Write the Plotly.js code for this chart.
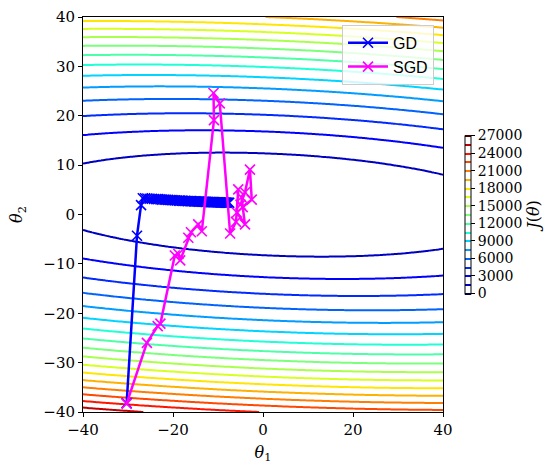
<!DOCTYPE html>
<html>
<head>
<meta charset="utf-8">
<script src="https://cdn.plot.ly/plotly-3.0.1.min.js"></script>
<style>html,body{margin:0;padding:0;background:#fff;}#chart{width:557px;height:465px;}</style>
</head>
<body>
<div id="chart"></div>
<script>
// ---- cost surface J(theta) (quadratic fitted to the contours) ----
const quadA = 0.49;     // theta1^2 weight
const quadB = 0.51;     // cross term weight
const quadC = 13.5;     // theta2^2 weight
const centerT1 = 2.0;
const centerT2 = 2.0;
const minCost = 60;
const gridMin = -40, gridMax = 40, gridStep = 0.5;

// contour levels / colourbar
const levelStart = 0, levelEnd = 27000, levelStep = 1500;
const cbTickStep = 3000;

// ---- gradient descent path ----
const gdT1 = [-30.3, -28.0, -27.1, -26.7, -26.2, -25.7, -25.2, -24.7, -24.2, -23.7, -23.3, -22.8, -22.4, -21.9,
  -21.5, -21.1, -20.7, -20.3, -19.9, -19.5, -19.1, -18.7, -18.4, -18.0, -17.7, -17.3, -17.0, -16.7, -16.3,
  -16.0, -15.7, -15.4, -15.1, -14.8, -14.5, -14.2, -13.9, -13.6, -13.4, -13.1, -12.8, -12.6, -12.3, -12.1,
  -11.8, -11.6, -11.3, -11.1, -10.9, -10.6, -10.4, -10.2, -10.0, -9.7, -9.5, -9.3, -9.1, -8.9, -8.7, -8.5,
  -8.3, -8.1, -7.9, -7.7, -7.5];
const gdT2 = [-38.2, -4.3, 1.9, 3.3, 3.3, 3.25, 3.2, 3.2, 3.15, 3.1, 3.1, 3.05, 3.0, 3.0,
  2.98, 2.95, 2.93, 2.9, 2.88, 2.86, 2.84, 2.82, 2.8, 2.78, 2.77, 2.75, 2.74, 2.72, 2.71,
  2.7, 2.68, 2.67, 2.66, 2.65, 2.63, 2.62, 2.61, 2.6, 2.59, 2.58, 2.57, 2.56, 2.55, 2.54,
  2.53, 2.52, 2.51, 2.5, 2.5, 2.49, 2.48, 2.47, 2.46, 2.45, 2.45, 2.44, 2.43, 2.42, 2.42, 2.41,
  2.4, 2.4, 2.39, 2.38, 2.38];

// ---- stochastic gradient descent path ----
const sgdT1 = [-30.3, -25.8, -23.4, -22.8, -19.6, -18.8, -18.4, -16.6, -16.0, -14.4, -13.6, -10.9, -11.0, -9.6,
  -7.3, -6.0, -5.5, -5.8, -4.0, -4.8, -4.5, -2.5, -2.9, -4.0, -5.0];
const sgdT2 = [-38.3, -26.0, -22.6, -22.1, -8.3, -8.0, -9.3, -4.7, -3.6, -2.0, -3.4, 19.1, 24.6, 22.5,
  -3.85, -1.5, 5.1, 0.4, -2.0, 3.5, 1.5, 3.0, 9.1, 4.5, 2.0];

// jet colour map (matplotlib)
const jet = [
  [0.0, 'rgb(0,0,128)'], [0.11, 'rgb(0,0,255)'], [0.125, 'rgb(0,0,255)'], [0.34, 'rgb(0,219,255)'],
  [0.35, 'rgb(0,230,247)'], [0.375, 'rgb(21,255,226)'], [0.64, 'rgb(239,255,8)'], [0.65, 'rgb(247,245,0)'],
  [0.66, 'rgb(255,236,0)'], [0.89, 'rgb(255,19,0)'], [0.91, 'rgb(232,0,0)'], [1.0, 'rgb(128,0,0)']
];

const gx = [], gy = [];
for (let v = gridMin; v <= gridMax + 1e-9; v += gridStep) { gx.push(+v.toFixed(3)); gy.push(+v.toFixed(3)); }
const gz = gy.map(t2 => gx.map(t1 => {
  const d1 = t1 - centerT1, d2 = t2 - centerT2;
  return quadA * d1 * d1 + 2 * quadB * d1 * d2 + quadC * d2 * d2 + minCost;
}));

const serif = 'DejaVu Serif';
const sans = 'Liberation Sans';

const traces = [
  {
    type: 'contour', x: gx, y: gy, z: gz,
    autocontour: false,
    contours: {start: levelStart, end: levelEnd, size: levelStep, coloring: 'lines'},
    zmin: levelStart, zmax: levelEnd,
    colorscale: jet,
    line: {width: 2, smoothing: 1},
    showlegend: false, hoverinfo: 'skip',
    colorbar: {
      x: 1.061, xanchor: 'left', xpad: 0, ypad: 0,
      y: 0.5, yanchor: 'middle', len: 0.4, lenmode: 'fraction', thickness: 6,
      outlinewidth: 1, outlinecolor: '#000',
      tick0: 0, dtick: cbTickStep, tickformat: 'd', ticks: 'outside', ticklen: 4, tickcolor: '#000',
      tickfont: {family: serif, size: 14, color: '#000'},
      title: {text: '<i>J</i>(<i>θ</i>)', side: 'right', font: {family: serif, size: 16, color: '#000'}}
    }
  },
  {
    type: 'scatter', mode: 'lines+markers', name: 'GD', x: gdT1, y: gdT2,
    line: {color: '#0000ff', width: 2.5},
    marker: {symbol: 'x-thin', size: 10, line: {color: '#0000ff', width: 1.6}, color: '#0000ff'}
  },
  {
    type: 'scatter', mode: 'lines+markers', name: 'SGD', x: sgdT1, y: sgdT2,
    line: {color: '#ff00ff', width: 2.5},
    marker: {symbol: 'x-thin', size: 10, line: {color: '#ff00ff', width: 1.6}, color: '#ff00ff'}
  }
];

const axisCommon = {
  range: [-40, 40], showgrid: false, zeroline: false,
  showline: true, mirror: true, linecolor: '#000', linewidth: 1,
  ticks: 'outside', ticklen: 4, tickcolor: '#000',
  tickfont: {family: serif, size: 15, color: '#000'}
};

const layout = {
  width: 557, height: 465,
  margin: {l: 83, r: 114, t: 17, b: 53},
  paper_bgcolor: '#fff', plot_bgcolor: '#fff',
  xaxis: Object.assign({}, axisCommon, {tick0: -40, dtick: 20,
    title: {text: '<i>θ</i><sub>1</sub>', font: {family: serif, size: 16, color: '#000'}, standoff: 8}}),
  yaxis: Object.assign({}, axisCommon, {tick0: -40, dtick: 10,
    title: {text: '<i>θ</i><sub>2</sub>', font: {family: serif, size: 16, color: '#000'}, standoff: 16}}),
  legend: {
    x: 0.975, xanchor: 'right', y: 0.98, yanchor: 'top',
    bgcolor: 'rgba(255,255,255,0.8)', bordercolor: '#cccccc', borderwidth: 1,
    font: {family: sans, size: 16, color: '#000'}, itemwidth: 40, tracegroupgap: 0
  }
};

Plotly.newPlot('chart', traces, layout, {staticPlot: true, displayModeBar: false});
</script>
</body>
</html>
